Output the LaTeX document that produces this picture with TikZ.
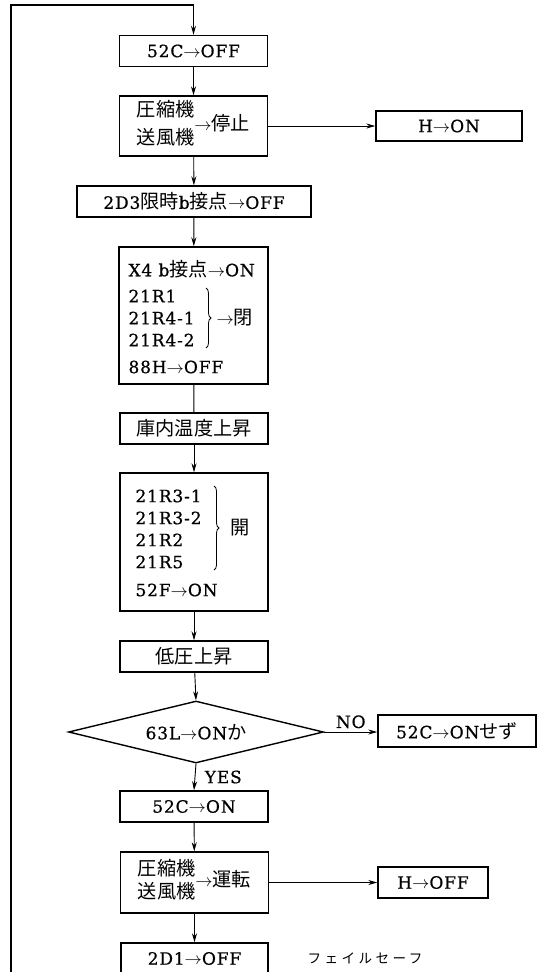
\documentclass[tikz,border=0pt]{standalone}
\usepackage{fontspec}
\setmainfont{DejaVu Serif}[LetterSpace=5,FakeBold=0.6]
\newfontfamily\jpfont{Noto Sans CJK JP}[Scale=1.13]
\newfontfamily\jpwide{Noto Sans CJK JP}[Scale=0.8,LetterSpace=25]
\newcommand{\ja}[1]{{\jpfont #1}}
\newcommand{\ra}{$\rightarrow$}
\usetikzlibrary{arrows.meta,shapes.geometric,decorations.pathreplacing}

\begin{document}
\begin{tikzpicture}[x=1pt,y=-1pt,
    every node/.style={font=\fontsize{17}{22}\selectfont},
    box/.style={draw,line width=1.4pt,inner sep=0pt,minimum width=148pt,minimum height=31pt},
    flow/.style={line width=0.9pt,-{Stealth[length=9pt,width=5pt]}},
    brace/.style={decorate,decoration={brace,amplitude=5pt},line width=0.8pt}]
    % Fix the page size
    \useasboundingbox (0,0) rectangle (538,972);
    \clip (0,0) rectangle (538,972);

    % Draw the main column
    \node[box] (offC) at (193.5,51) {52C\ra OFF};
    \node[box,minimum height=60pt] (stopA) at (193.5,126)
        {\begin{tabular}{@{}l@{}}\ja{圧縮機}\\[5pt]\ja{送風機}\end{tabular}\ra\ja{停止}};
    \node[box,minimum width=234pt] (offD3) at (194,201.5) {2D3\ja{限時}b\ja{接点}\ra OFF};

    \node[box,minimum width=149pt,minimum height=137pt] (relX4) at (193.5,315.5) {};
    \node[anchor=west] (x4On) at (125,269) {X4 b\ja{接点}\ra ON};
    \node[anchor=west,align=left] (x4Rel) at (125,318) {21R1\\21R4-1\\21R4-2};
    \draw[brace] (206,288) -- (206,348);
    \node[anchor=west] (x4Cl) at (213,318) {\ra\ja{閉}};
    \node[anchor=west] (x4Off) at (125,367) {88H\ra OFF};

    \node[box] (tempUp) at (194,428.5) {\ja{庫内温度上昇}};

    \node[box,minimum height=138pt] (relR3) at (194,542) {};
    \node[anchor=west,align=left] (r3Rel) at (132,529) {21R3-1\\21R3-2\\21R2\\21R5};
    \draw[brace] (214,486) -- (214,570);
    \node[anchor=west] (r3Op) at (227,528) {\ja{開}};
    \node[anchor=west] (r3On) at (132,590) {52F\ra ON};

    \node[box] (lowUp) at (194,656.5) {\ja{低圧上昇}};
    \node[draw,diamond,shape aspect=4,line width=1.4pt,inner sep=0pt,
        minimum width=255pt,minimum height=62pt] (chkL) at (196,732) {63L\ra ON\ja{か}};
    \node[box] (onC) at (194,806.5) {52C\ra ON};
    \node[box,minimum height=61pt] (runA) at (194.5,882.5)
        {\begin{tabular}{@{}l@{}}\ja{圧縮機}\\[0pt]\ja{送風機}\end{tabular}\ra\ja{運転}};
    \node[box,minimum width=147pt] (offD1) at (194.5,958.5) {2D1\ra OFF};

    % Draw the side boxes
    \node[box,minimum width=146pt,minimum height=30pt] (onH) at (449,126) {H\ra ON};
    \node[box,minimum width=158pt,minimum height=32pt] (noC) at (457,731) {52C\ra ON\ja{せず}};
    \node[box,minimum width=110pt] (offH) at (433,882.5) {H\ra OFF};
    \node (safe) at (365,958) {\jpwide フェイルセーフ};

    % Draw the loop back on the left
    \coordinate (loopB) at (11,990);
    \coordinate (loopT) at (193.5,5);
    \draw[flow,line width=1.4pt] (loopB) |- (loopT) -- (offC.north);

    % Draw the connectors
    \draw[flow] (offC) -- (stopA);
    \draw[flow] (stopA) -- (onH);
    \draw[flow] (stopA) -- (offD3);
    \draw[flow] (offD3) -- (relX4);
    \draw[line width=0.9pt] (relX4) -- (tempUp);
    \draw[flow] (tempUp) -- (relR3);
    \draw[flow] (relR3) -- (lowUp);
    \draw[flow] (lowUp) -- (chkL.north);
    \draw[flow] (chkL.east) -- (noC.west |- chkL.east) node[midway,above] {NO};
    \draw[flow] (chkL.south) -- (onC.north) node[midway,right,xshift=6pt] {YES};
    \draw[flow] (onC) -- (runA);
    \draw[flow] (runA) -- (offH);
    \draw[flow] (runA) -- (offD1);
\end{tikzpicture}
\end{document}
